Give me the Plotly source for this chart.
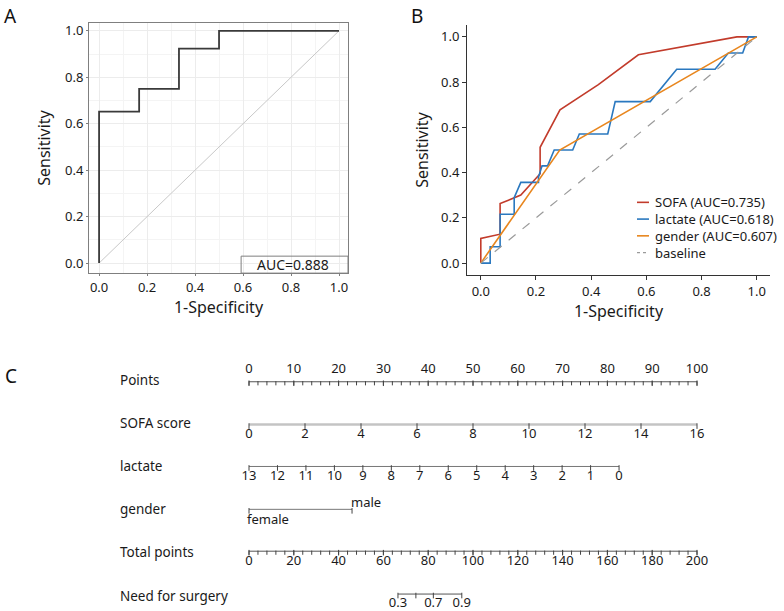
import plotly.graph_objects as go

# ---------------- DATA ----------------
# Panel A: ROC of nomogram
a_fpr = [0, 0, 0.167, 0.333, 0.5, 1.0]
a_tpr = [0, 0.652, 0.75, 0.923, 1.0, 1.0]
a_auc_text = "AUC=0.888"

# Panel B: ROC of single predictors
sofa_fpr = [0, 0, 0.070, 0.070, 0.145, 0.215, 0.215, 0.287, 0.426, 0.571, 0.928, 1.0]
sofa_tpr = [0, 0.109, 0.128, 0.263, 0.301, 0.395, 0.512, 0.678, 0.789, 0.921, 1.0, 1.0]
lact_fpr = [0, 0.034, 0.034, 0.070, 0.070, 0.121, 0.121, 0.145, 0.209, 0.209, 0.222, 0.242,
            0.266, 0.333, 0.357, 0.460, 0.487, 0.614, 0.710, 0.849, 0.897, 0.949, 0.970, 1.0]
lact_tpr = [0, 0, 0.072, 0.072, 0.216, 0.216, 0.289, 0.357, 0.357, 0.380, 0.430, 0.430,
            0.500, 0.500, 0.571, 0.571, 0.714, 0.714, 0.857, 0.857, 0.929, 0.929, 1.0, 1.0]
gend_fpr = [0, 0.286, 1.0]
gend_tpr = [0, 0.500, 1.0]
base_fpr = [0, 1]
base_tpr = [0, 1]
b_names = ["SOFA (AUC=0.735)", "lactate (AUC=0.618)", "gender (AUC=0.607)", "baseline"]
b_colors = ["#c23b2b", "#2a78bf", "#e8861e", "#9a9a9a"]
b_dashes = ["solid", "solid", "solid", "dash"]

# Panel C: nomogram
row_labels = ["Points", "SOFA score", "lactate", "gender", "Total points", "Need for surgery"]
points_major = list(range(0, 101, 10))
points_minor = list(range(0, 101, 2))
sofa_ticks = list(range(0, 17, 2))
sofa_max_points = 100.0
lactate_ticks = list(range(13, -1, -1))
lactate_max_points = 82.6
gender_levels = ["female", "male"]
gender_points = [0.0, 23.0]
total_major = list(range(0, 201, 20))
total_minor = list(range(0, 201, 4))
surgery_probs = [0.3, 0.5, 0.7, 0.9]
surgery_labels = ["0.3", "", "0.7", "0.9"]
surgery_total = [66.5, 74.5, 82.3, 95.0]

# ---------------- LAYOUT CONSTANTS ----------------
W, H = 784, 611
FONT = "Noto Sans"
TXT = "#1a1a1a"

def px(xs):
    return xs / W

def py(ys):
    return 1 - ys / H

fig = go.Figure()

# ---- Panel A ----
fig.add_trace(go.Scatter(x=base_fpr, y=base_tpr, mode="lines",
                         line=dict(color="#c8c8c8", width=1), showlegend=False,
                         xaxis="x", yaxis="y", hoverinfo="skip"))
fig.add_trace(go.Scatter(x=a_fpr, y=a_tpr, mode="lines", line_shape="hv",
                         line=dict(color="#3a3a3a", width=1.8), showlegend=False,
                         xaxis="x", yaxis="y"))

# ---- Panel B ----
b_series = [(sofa_fpr, sofa_tpr), (lact_fpr, lact_tpr), (gend_fpr, gend_tpr)]
for (fx, ty), nm, col in zip(b_series, b_names[:3], b_colors[:3]):
    fig.add_trace(go.Scatter(x=fx, y=ty, mode="lines", name=nm, showlegend=False,
                             line=dict(color=col, width=1.6), xaxis="x2", yaxis="y2"))
fig.add_trace(go.Scatter(x=base_fpr, y=base_tpr, mode="lines", name=b_names[3], showlegend=False,
                         line=dict(color=b_colors[3], width=1.2, dash="dash"), xaxis="x2", yaxis="y2"))

# legend for panel B (compact, like the original)
for i, (nm, col, ds) in enumerate(zip(b_names, b_colors, b_dashes)):
    yl = 201 + i * 16.8
    fig.add_shape(type="line", xref="paper", yref="paper", x0=px(637), x1=px(649),
                  y0=py(yl), y1=py(yl), line=dict(color=col, width=1.6 if ds == "solid" else 1.2,
                                                  dash="dot" if ds == "dash" else "solid"))
    fig.add_annotation(x=px(654), y=py(yl), xref="paper", yref="paper", text=nm, showarrow=False,
                       xanchor="left", yanchor="middle", height=16, borderpad=0,
                       font=dict(family=FONT, size=13, color=TXT))

# ---- Panel C (nomogram) ----
Y_POINTS, Y_SOFA, Y_LACT, Y_GEND, Y_TOT, Y_SURG = 381, 424, 466, 509, 551, 594
X0_PX, PT_PX = 249.0, 4.48

def add_line(xs, yrow, color="#555555", width=1):
    fig.add_trace(go.Scatter(x=[min(xs), max(xs)], y=[yrow, yrow], mode="lines",
                             line=dict(color=color, width=width), showlegend=False,
                             xaxis="x3", yaxis="y3", hoverinfo="skip"))

def add_ticks(xs, yrow, size=4, color="#444444"):
    fig.add_trace(go.Scatter(x=xs, y=[yrow + 1.5] * len(xs), mode="markers",
                             marker=dict(symbol="line-ns-open", size=size, color=color,
                                         line=dict(color=color, width=1)),
                             showlegend=False, xaxis="x3", yaxis="y3", hoverinfo="skip"))

def add_labels(xs, texts, ylab, size=13):
    fig.add_trace(go.Scatter(x=xs, y=[ylab] * len(xs), mode="text", text=texts,
                             textposition="middle center",
                             textfont=dict(family=FONT, size=size, color=TXT),
                             showlegend=False, xaxis="x3", yaxis="y3", hoverinfo="skip"))

# Points
add_line(points_minor, Y_POINTS, "#555555", 1)
add_ticks(points_minor, Y_POINTS, size=3)
add_ticks(points_major, Y_POINTS, size=4)
add_labels(points_major, [str(v) for v in points_major], Y_POINTS - 12)

# SOFA score
sofa_pts = [v * sofa_max_points / max(sofa_ticks) for v in sofa_ticks]
add_line(sofa_pts, Y_SOFA, "#c4c4c4", 2.5)
add_ticks(sofa_pts, Y_SOFA, size=4)
add_labels(sofa_pts, [str(v) for v in sofa_ticks], Y_SOFA + 10)

# lactate
lact_pts = [(max(lactate_ticks) - v) * lactate_max_points / max(lactate_ticks) for v in lactate_ticks]
add_line(lact_pts, Y_LACT, "#777777", 1)
add_ticks(lact_pts, Y_LACT, size=4)
add_labels(lact_pts, [str(v) for v in lactate_ticks], Y_LACT + 10)

# gender
add_line(gender_points, Y_GEND, "#777777", 1)
add_ticks(gender_points, Y_GEND, size=4)
fig.add_annotation(x=gender_points[0], y=Y_GEND + 10, xref="x3", yref="y3", text=gender_levels[0],
                   showarrow=False, xanchor="left", yanchor="middle", xshift=-4,
                   font=dict(family=FONT, size=13, color=TXT))
fig.add_annotation(x=gender_points[1], y=Y_GEND - 7, xref="x3", yref="y3", text=gender_levels[1],
                   showarrow=False, xanchor="left", yanchor="middle", xshift=-3,
                   font=dict(family=FONT, size=13, color=TXT))

# Total points (0-200 mapped on the 0-100 points scale)
tot_minor_pts = [v / 2 for v in total_minor]
tot_major_pts = [v / 2 for v in total_major]
add_line(tot_minor_pts, Y_TOT, "#555555", 1)
add_ticks(tot_minor_pts, Y_TOT, size=3)
add_ticks(tot_major_pts, Y_TOT, size=4)
add_labels(tot_major_pts, [str(v) for v in total_major], Y_TOT + 11)

# Need for surgery
surg_pts = [v / 2 for v in surgery_total]
add_line(surg_pts, Y_SURG, "#555555", 1)
add_ticks(surg_pts, Y_SURG, size=4)
add_labels(surg_pts, surgery_labels, Y_SURG + 10)

# Row labels
label_rows = [Y_POINTS - 2, Y_SOFA - 2, Y_LACT, Y_GEND, Y_TOT + 1, Y_SURG + 2]
for lab, yr in zip(row_labels, label_rows):
    fig.add_annotation(x=(118 - X0_PX) / PT_PX, y=yr, xref="x3", yref="y3", text=lab,
                       showarrow=False, xanchor="left", yanchor="middle",
                       font=dict(family=FONT, size=13.5, color=TXT))

# Panel letters
for letter, xl, yl in [("A", 10, 14), ("B", 417, 14), ("C", 11, 375)]:
    fig.add_annotation(x=px(xl), y=py(yl), xref="paper", yref="paper", text=letter,
                       showarrow=False, xanchor="center", yanchor="middle",
                       font=dict(family=FONT, size=19, color="#111111"))

# AUC box in panel A
fig.add_shape(type="rect", xref="x", yref="y", x0=0.592, x1=1.0375, y0=-0.043, y1=0.030,
              line=dict(color="#7f7f7f", width=1), fillcolor="rgba(0,0,0,0)")
fig.add_annotation(x=0.81, y=-0.006, xref="x", yref="y", text=a_auc_text, showarrow=False,
                   xanchor="center", yanchor="middle", font=dict(family=FONT, size=14, color=TXT))

tickfont = dict(family=FONT, size=13, color=TXT)
titlefont = dict(family=FONT, size=16, color=TXT)
tv = [0, 0.2, 0.4, 0.6, 0.8, 1.0]
tt = ["0.0", "0.2", "0.4", "0.6", "0.8", "1.0"]

fig.update_layout(
    width=W, height=H, margin=dict(l=0, r=0, t=0, b=0),
    paper_bgcolor="white", plot_bgcolor="white",
    font=dict(family=FONT, color=TXT),
    xaxis=dict(domain=[px(89), px(348)], range=[-0.042, 1.0375], anchor="y",
               tickvals=tv, ticktext=tt,
               ticks="outside", ticklen=2, tickcolor="#7f7f7f", tickfont=tickfont,
               showline=True, mirror=True, linecolor="#7f7f7f", linewidth=1,
               showgrid=True, gridcolor="#ececec", gridwidth=1,
               minor=dict(dtick=0.1, tick0=0, showgrid=True, gridcolor="#f4f4f4", ticks=""),
               zeroline=False, title=dict(text="1-Specificity", font=titlefont, standoff=4)),
    yaxis=dict(domain=[py(272), py(21)], range=[-0.043, 1.034], anchor="x",
               tickvals=tv, ticktext=tt,
               ticks="outside", ticklen=2, tickcolor="#7f7f7f", tickfont=tickfont,
               showline=True, mirror=True, linecolor="#7f7f7f", linewidth=1,
               showgrid=True, gridcolor="#ececec", gridwidth=1,
               minor=dict(dtick=0.1, tick0=0, showgrid=True, gridcolor="#f4f4f4", ticks=""),
               zeroline=False, title=dict(text="Sensitivity", font=titlefont, standoff=10)),
    xaxis2=dict(domain=[px(467), px(770)], range=[-0.05, 1.048], anchor="y2",
                tickvals=tv, ticktext=tt,
                ticks="outside", ticklen=4, tickcolor="#333333", tickfont=tickfont,
                showline=True, linecolor="#333333", linewidth=1, showgrid=False, zeroline=False,
                title=dict(text="1-Specificity", font=titlefont, standoff=6)),
    yaxis2=dict(domain=[py(274), py(23)], range=[-0.053, 1.053], anchor="x2",
                tickvals=tv, ticktext=tt,
                ticks="outside", ticklen=4, tickcolor="#333333", tickfont=tickfont,
                showline=True, linecolor="#333333", linewidth=1, showgrid=False, zeroline=False,
                title=dict(text="Sensitivity", font=titlefont, standoff=8)),
    xaxis3=dict(domain=[0, 1], range=[-X0_PX / PT_PX, (W - X0_PX) / PT_PX], anchor="y3",
                visible=False, fixedrange=True),
    yaxis3=dict(domain=[0, py(322)], range=[H, 322], anchor="x3", visible=False, fixedrange=True),
    showlegend=False,
)

# remove the default page margin so the figure sits at the window's top-left corner
fig.write_html("out.html", config={"displayModeBar": False},
               post_script="document.body.style.margin='0px';")
